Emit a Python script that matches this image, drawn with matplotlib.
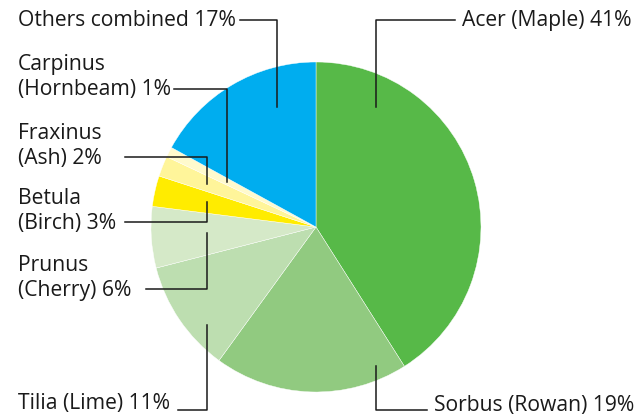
import matplotlib
matplotlib.use("Agg")
import matplotlib.pyplot as plt

labels = ["Acer (Maple) 41%", "Sorbus (Rowan) 19%", "Tilia (Lime) 11%",
          "Prunus\n(Cherry) 6%", "Betula\n(Birch) 3%", "Fraxinus\n(Ash) 2%",
          "Carpinus\n(Hornbeam) 1%", "Others combined 17%"]
values = [41, 19, 11, 6, 3, 2, 1, 17]
colors = ["#57b948", "#91ca80", "#bddeb0", "#d5e9c8", "#ffec00", "#fff59a",
          "#fffacd", "#00adef"]

W, H = 637, 417
fig = plt.figure(figsize=(W / 100, H / 100), dpi=100)
ax = fig.add_axes([0, 0, 1, 1])

def Y(y):
    return H - y

ax.pie(values, colors=colors, startangle=90, counterclock=False,
       center=(316, Y(227)), radius=165, frame=True,
       wedgeprops=dict(linewidth=0.3, edgecolor="white"))
ax.set_xlim(0, W)
ax.set_ylim(0, H)
ax.set_aspect("equal")
ax.axis("off")

font = dict(family="Open Sans", fontsize=15.2, color="#1a1a1a")
lc = dict(color="#1a1a1a", linewidth=1.1)

specs = [
    (labels[0], 632, 20, "right", [(455, 20), (376, 20), (376, 107)]),
    (labels[1], 634, 406, "right", [(427, 410), (376, 410), (376, 366)]),
    (labels[2], 18, 403, "left", [(178, 410), (207, 410), (207, 325)]),
    (labels[3], 18, 278, "left", [(146, 289), (207, 289), (207, 233)]),
    (labels[4], 18, 211, "left", [(125, 222), (207, 222), (207, 202)]),
    (labels[5], 18, 146, "left", [(125, 157), (207, 157), (207, 184)]),
    (labels[6], 18, 77, "left", [(174, 89), (227, 89), (227, 182)]),
    (labels[7], 18, 20, "left", [(240, 20), (277, 20), (277, 107)]),
]
for text, x, y, ha, pts in specs:
    ax.text(x, Y(y), text, ha=ha, va="center", linespacing=1.3, **font)
    xs = [p[0] for p in pts]
    ys = [Y(p[1]) for p in pts]
    ax.plot(xs, ys, **lc)

fig.savefig("out.png", dpi=100)
